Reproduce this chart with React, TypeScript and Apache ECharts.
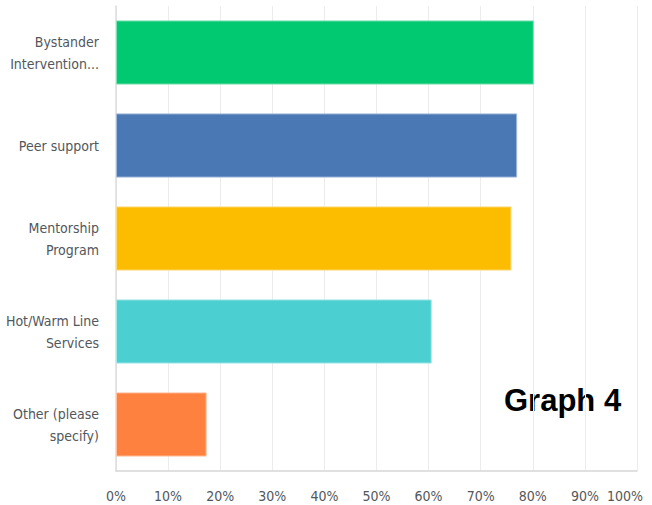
import React, { useEffect, useRef } from "react";
import * as echarts from "echarts";

const categories = [
  "Bystander\nIntervention...",
  "Peer support",
  "Mentorship\nProgram",
  "Hot/Warm Line\nServices",
  "Other (please\nspecify)",
];
const values = [80.2, 77.0, 75.9, 60.6, 17.4];
const barColors = ["#00c971", "#4a78b5", "#fcbc00", "#4ccfd0", "#ff8140"];
const borderColors = ["#7fe0b4", "#a0b8da", "#fdd97f", "#a4e7e7", "#ffc09f"];
const tickValues = ["0%", "10%", "20%", "30%", "40%", "50%", "60%", "70%", "80%", "90%", "100%"];
const annotation = "Graph 4";

const FONT = "'DejaVu Sans Condensed', 'DejaVu Sans', sans-serif";

export default function App() {
  const ref = useRef<HTMLDivElement>(null);
  useEffect(() => {
    document.body.style.margin = "0";
    const chart = echarts.init(ref.current!, null, { renderer: "svg" });
    chart.setOption({
      animation: false,
      backgroundColor: "#ffffff",
      grid: { left: 116, right: 15, top: 6, bottom: 34 },
      xAxis: {
        type: "value",
        min: 0,
        max: 100,
        interval: 10,
        axisLine: { show: true, lineStyle: { color: "#d6d6d6", width: 1.5 } },
        axisTick: { show: false },
        splitLine: { show: true, lineStyle: { color: "#ececec", width: 1 } },
        axisLabel: {
          margin: 18,
          color: "#52575c",
          fontSize: 14,
          fontFamily: FONT,
          formatter: (v: number) => {
            const i = Math.round(v / 10);
            const t = tickValues[i];
            return i === tickValues.length - 1 ? "{last|" + t + "}" : t;
          },
          rich: {
            last: { color: "#52575c", fontSize: 14, fontFamily: FONT, padding: [0, 24, 0, 0] },
          },
        },
      },
      yAxis: {
        type: "category",
        inverse: true,
        data: categories,
        axisLine: { show: true, lineStyle: { color: "#dcdcdc", width: 1.5 } },
        axisTick: { show: false },
        axisLabel: {
          margin: 17,
          color: "#52575c",
          fontSize: 14,
          lineHeight: 22,
          fontFamily: FONT,
        },
      },
      series: [
        {
          type: "bar",
          barCategoryGap: "31%",
          data: values.map((v, i) => ({
            value: v,
            itemStyle: { color: barColors[i], borderColor: borderColors[i], borderWidth: 1 },
          })),
        },
      ],
      graphic: [
        {
          type: "text",
          left: 504,
          top: 385,
          style: {
            text: annotation,
            fontSize: 31,
            fontWeight: "bold",
            fontFamily: "'Liberation Sans', Arial, sans-serif",
            fill: "#000000",
          },
        },
      ],
    });
    return () => chart.dispose();
  }, []);
  return <div ref={ref} style={{ width: 652, height: 505 }} />;
}
